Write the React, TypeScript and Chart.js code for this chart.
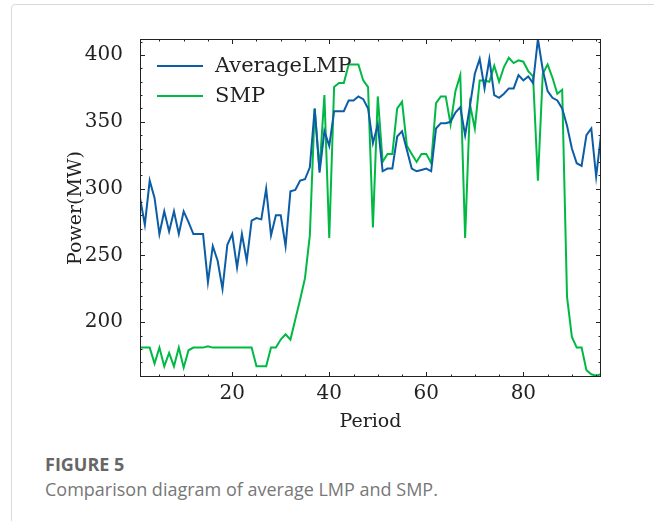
import React, { useEffect, useRef } from 'react';
import { Chart, registerables } from 'chart.js';

Chart.register(...registerables);

// Dispatch periods (1..96)
const periods: number[] = Array.from({ length: 96 }, (_, i) => i + 1);

// Average locational marginal price per period
const averageLMP: number[] = [
  293, 273, 306, 293, 266, 283, 268, 283, 266, 283,
  275, 266, 266, 266, 230, 257, 246, 225, 258, 266,
  241, 266, 246, 276, 278, 277, 300, 265, 280, 280,
  257, 298, 299, 306, 307, 316, 360, 312, 343, 332,
  358, 358, 358, 366, 366, 369, 367, 360, 334, 348,
  313, 315, 315, 339, 343, 329, 315, 313, 314, 315,
  313, 345, 349, 349, 350, 357, 361, 340, 362, 386,
  397, 375, 397, 370, 368, 371, 375, 375, 385, 381,
  384, 379, 412, 389, 373, 368, 366, 360, 347, 330,
  319, 317, 340, 345, 309, 340,
];

// System marginal price per period
const smp: number[] = [
  181, 181, 181, 169, 181, 167, 177, 167, 181, 166,
  179, 181, 181, 181, 182, 181, 181, 181, 181, 181,
  181, 181, 181, 181, 167, 167, 167, 181, 181, 187,
  191, 187, 202, 217, 233, 265, 360, 314, 370, 263,
  376, 379, 379, 393, 393, 393, 381, 376, 271, 369,
  320, 326, 326, 360, 365, 332, 326, 320, 326, 326,
  319, 364, 369, 369, 348, 373, 385, 263, 363, 345,
  381, 381, 380, 392, 380, 391, 398, 394, 396, 395,
  388, 384, 306, 386, 393, 383, 371, 374, 219, 189,
  181, 181, 164, 161, 160, 161,
];

const xTickValues: number[] = [20, 40, 60, 80];
const yTickValues: number[] = [200, 250, 300, 350, 400];

const seriesNames: string[] = ['AverageLMP', 'SMP'];
const seriesColors: string[] = ['#0C5DA5', '#00B945'];

const SERIF = "'DejaVu Serif', serif";
const INK = '#222222';

// Axes box with inward major/minor ticks on all four sides
const framePlugin = {
  id: 'frameTicks',
  afterDatasetsDraw(chart: any) {
    const { ctx, chartArea: a, scales } = chart;
    const xs = scales.x;
    const ys = scales.y;
    ctx.save();
    ctx.strokeStyle = INK;
    ctx.lineWidth = 1;
    ctx.strokeRect(a.left + 0.5, a.top + 0.5, a.right - a.left - 1, a.bottom - a.top - 1);
    const seg = (x1: number, y1: number, x2: number, y2: number) => {
      ctx.beginPath();
      ctx.moveTo(x1, y1);
      ctx.lineTo(x2, y2);
      ctx.stroke();
    };
    for (let v = Math.ceil(xs.min / 5) * 5; v <= xs.max; v += 5) {
      const len = xTickValues.includes(v) ? 5 : 2.5;
      const px = Math.round(xs.getPixelForValue(v)) + 0.5;
      seg(px, a.bottom, px, a.bottom - len);
      seg(px, a.top, px, a.top + len);
    }
    for (let v = Math.ceil(ys.min / 10) * 10; v <= ys.max; v += 10) {
      const len = yTickValues.includes(v) ? 5 : 2.5;
      const py = Math.round(ys.getPixelForValue(v)) + 0.5;
      seg(a.left, py, a.left + len, py);
      seg(a.right, py, a.right - len, py);
    }
    ctx.restore();
  },
};

// Frameless legend in the upper-left corner of the plot
const legendPlugin = {
  id: 'cornerLegend',
  afterDatasetsDraw(chart: any) {
    const { ctx, chartArea: a } = chart;
    ctx.save();
    ctx.font = `21px ${SERIF}`;
    ctx.textBaseline = 'middle';
    ctx.textAlign = 'left';
    chart.data.datasets.forEach((ds: any, i: number) => {
      const y = a.top + 27 + i * 30;
      ctx.strokeStyle = ds.borderColor;
      ctx.lineWidth = 2;
      ctx.beginPath();
      ctx.moveTo(a.left + 17, y);
      ctx.lineTo(a.left + 63, y);
      ctx.stroke();
      ctx.fillStyle = INK;
      ctx.fillText(ds.label, a.left + 75, y + 1);
    });
    ctx.restore();
  },
};

function PriceChart() {
  const canvasRef = useRef<HTMLCanvasElement | null>(null);

  useEffect(() => {
    const canvas = canvasRef.current;
    if (!canvas) return;
    const chart = new Chart(canvas, {
      type: 'line',
      data: {
        labels: periods,
        datasets: [
          {
            label: seriesNames[0],
            data: averageLMP,
            borderColor: seriesColors[0],
            backgroundColor: seriesColors[0],
            borderWidth: 2,
            pointRadius: 0,
            tension: 0,
            fill: false,
          },
          {
            label: seriesNames[1],
            data: smp,
            borderColor: seriesColors[1],
            backgroundColor: seriesColors[1],
            borderWidth: 2,
            pointRadius: 0,
            tension: 0,
            fill: false,
          },
        ],
      },
      options: {
        responsive: false,
        devicePixelRatio: 1,
        animation: false,
        events: [],
        layout: { padding: { left: 0, top: 39, right: 53, bottom: 0 } },
        plugins: {
          legend: { display: false },
          tooltip: { enabled: false },
        },
        scales: {
          x: {
            type: 'linear',
            min: 1,
            max: 96,
            grid: { display: false },
            border: { display: false },
            afterBuildTicks: (s: any) => {
              s.ticks = xTickValues.map((v) => ({ value: v }));
            },
            afterFit: (s: any) => {
              s.height = 63;
            },
            ticks: {
              autoSkip: false,
              maxRotation: 0,
              padding: -3,
              color: INK,
              font: { family: SERIF, size: 20 },
            },
            title: {
              display: true,
              text: 'Period',
              color: INK,
              font: { family: SERIF, size: 19 },
              padding: { top: 0, bottom: 7 },
            },
          },
          y: {
            type: 'linear',
            min: 159,
            max: 412,
            grid: { display: false },
            border: { display: false },
            afterBuildTicks: (s: any) => {
              s.ticks = yTickValues.map((v) => ({ value: v }));
            },
            afterFit: (s: any) => {
              s.width = 140;
            },
            ticks: {
              autoSkip: false,
              padding: 9,
              color: INK,
              font: { family: SERIF, size: 20 },
            },
            title: {
              display: true,
              text: 'Power(MW)',
              color: INK,
              font: { family: SERIF, size: 19 },
              padding: { top: 65, bottom: 0 },
            },
          },
        },
      },
      plugins: [framePlugin, legendPlugin],
    });
    return () => chart.destroy();
  }, []);

  return <canvas ref={canvasRef} width={654} height={440} style={{ display: 'block' }} />;
}

export default function App() {
  return (
    <div
      style={{
        position: 'absolute',
        left: 0,
        top: 0,
        width: 654,
        height: 521,
        overflow: 'hidden',
        background: '#ffffff',
      }}
    >
      <div
        style={{
          position: 'absolute',
          left: 11,
          top: 4,
          width: 700,
          height: 600,
          border: '1px solid #d9d9d9',
          borderRadius: 4,
        }}
      />
      <div style={{ position: 'absolute', left: 0, top: 0 }}>
        <PriceChart />
      </div>
      <div
        style={{
          position: 'absolute',
          left: 45,
          top: 452,
          fontFamily: "'Open Sans', sans-serif",
          fontWeight: 700,
          fontSize: 18,
          color: '#666666',
          whiteSpace: 'nowrap',
        }}
      >
        FIGURE 5
      </div>
      <div
        style={{
          position: 'absolute',
          left: 45,
          top: 477,
          fontFamily: "'Open Sans', sans-serif",
          fontSize: 18,
          color: '#777777',
          whiteSpace: 'nowrap',
        }}
      >
        Comparison diagram of average LMP and SMP.
      </div>
    </div>
  );
}
